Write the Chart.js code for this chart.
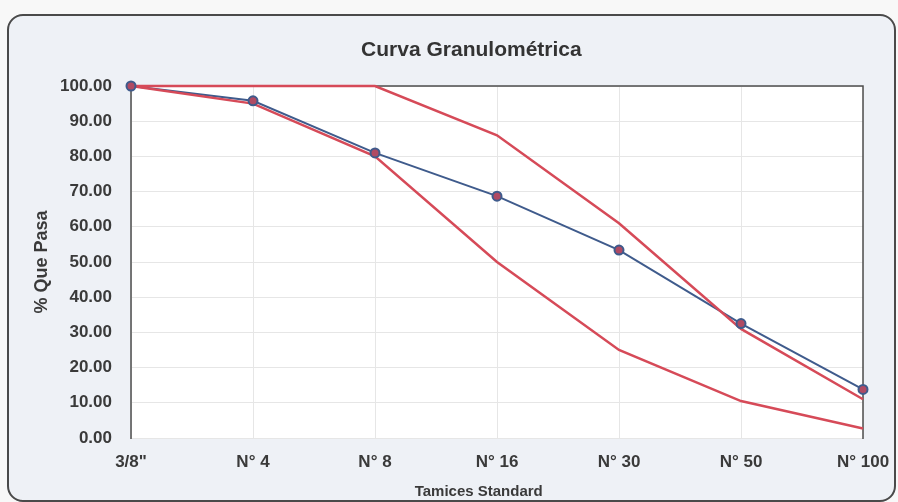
<!DOCTYPE html>
<html>
<head>
<meta charset="utf-8">
<script src="https://cdn.jsdelivr.net/npm/chart.js@4.4.1/dist/chart.umd.min.js"></script>
<style>
  html, body { margin: 0; padding: 0; background: #f8f8f8; }
  #wrap { width: 898px; height: 502px; position: relative; }
</style>
</head>
<body>
<div id="wrap"><canvas id="curva" width="898" height="502"></canvas></div>
<script>
// Sieve sizes (x categories)
const tamices = ['3/8"', 'N° 4', 'N° 8', 'N° 16', 'N° 30', 'N° 50', 'N° 100'];
// % passing of the sample
const pasa = [100, 95.8, 81.0, 68.7, 53.4, 32.5, 13.8];
// Upper gradation limit
const limiteSuperior = [100, 100, 100, 86, 61, 31, 11];
// Lower gradation limit
const limiteInferior = [100, 95, 80, 50, 25, 10.5, 2.7];
// Y axis tick values
const ticksY = [0, 10, 20, 30, 40, 50, 60, 70, 80, 90, 100];
// Chart heading and x axis caption
const titulo = 'Curva Granulométrica';
const tituloX = 'Tamices Standard';

const FONT = "'Liberation Sans', Arial, sans-serif";
const AZUL = '#3f5b8c';
const ROJO = '#d64a58';

// Rounded frame around the whole chart, white plot background, plot border and captions
const marco = {
  id: 'marco',
  beforeDraw(chart) {
    const c = chart.ctx;
    const a = chart.chartArea;
    c.save();
    c.fillStyle = '#f8f8f8';
    c.fillRect(0, 0, chart.width, chart.height);
    const x0 = 8, y0 = 15, x1 = chart.width - 3, y1 = chart.height - 1, r = 15;
    c.beginPath();
    c.moveTo(x0 + r, y0);
    c.lineTo(x1 - r, y0);
    c.arcTo(x1, y0, x1, y0 + r, r);
    c.lineTo(x1, y1 - r);
    c.arcTo(x1, y1, x1 - r, y1, r);
    c.lineTo(x0 + r, y1);
    c.arcTo(x0, y1, x0, y1 - r, r);
    c.lineTo(x0, y0 + r);
    c.arcTo(x0, y0, x0 + r, y0, r);
    c.closePath();
    c.fillStyle = '#eef1f6';
    c.fill();
    c.lineWidth = 2;
    c.strokeStyle = '#4a4a4a';
    c.stroke();
    c.fillStyle = '#ffffff';
    c.fillRect(a.left, a.top, a.right - a.left, a.bottom - a.top);
    c.restore();
  },
  beforeDatasetsDraw(chart) {
    const c = chart.ctx;
    const a = chart.chartArea;
    c.save();
    c.strokeStyle = '#4d4d4d';
    c.lineWidth = 1.5;
    c.beginPath();
    c.moveTo(a.left, a.bottom + 1);
    c.lineTo(a.left, a.top);
    c.lineTo(a.right, a.top);
    c.lineTo(a.right, a.bottom + 1);
    c.stroke();
    c.restore();
  },
  afterDraw(chart) {
    const c = chart.ctx;
    const a = chart.chartArea;
    c.save();
    c.fillStyle = '#333333';
    c.textAlign = 'center';
    c.textBaseline = 'middle';
    c.font = 'bold 21px ' + FONT;
    c.fillText(titulo, a.left + (a.right - a.left) * 0.465, a.top - 36);
    c.fillStyle = '#3a3a3a';
    c.font = 'bold 15px ' + FONT;
    c.fillText(tituloX, a.left + (a.right - a.left) * 0.475, a.bottom + 54);
    c.restore();
  }
};

new Chart(document.getElementById('curva'), {
  type: 'line',
  data: {
    labels: tamices,
    datasets: [
      {
        label: '% Que Pasa',
        data: pasa,
        borderColor: AZUL,
        borderWidth: 2,
        pointRadius: 0,
        tension: 0,
        order: 3
      },
      {
        label: 'Límite superior',
        data: limiteSuperior,
        borderColor: ROJO,
        borderWidth: 2.5,
        pointRadius: 0,
        tension: 0,
        order: 2
      },
      {
        label: 'Límite inferior',
        data: limiteInferior,
        borderColor: ROJO,
        borderWidth: 2.5,
        pointRadius: 0,
        tension: 0,
        order: 2
      },
      {
        label: 'Puntos',
        data: pasa,
        showLine: false,
        pointRadius: 4.5,
        pointBackgroundColor: '#b04a63',
        pointBorderColor: AZUL,
        pointBorderWidth: 2,
        order: 1
      }
    ]
  },
  options: {
    responsive: false,
    animation: false,
    clip: false,
    layout: { padding: { left: 25, right: 35, top: 86, bottom: 2 } },
    plugins: {
      legend: { display: false },
      tooltip: { enabled: false },
      title: { display: false }
    },
    scales: {
      x: {
        offset: false,
        grid: { color: '#e6e6e6', lineWidth: 1, drawTicks: false },
        border: { display: false },
        ticks: {
          color: '#3a3a3a',
          padding: 14,
          maxRotation: 0,
          autoSkip: false,
          font: { family: FONT, size: 17, weight: 'bold' }
        },
        title: { display: false },
        afterFit(scale) {
          scale.height = 62;
          scale.paddingLeft = 0;
          scale.paddingRight = 0;
        }
      },
      y: {
        min: 0,
        max: 100,
        afterBuildTicks(scale) { scale.ticks = ticksY.map(v => ({ value: v })); },
        grid: { color: '#e6e6e6', lineWidth: 1, drawTicks: false },
        border: { display: false },
        ticks: {
          color: '#3a3a3a',
          padding: 19,
          font: { family: FONT, size: 17, weight: 'bold' },
          callback: v => Number(v).toFixed(2)
        },
        title: {
          display: true,
          text: '% Que Pasa',
          color: '#3a3a3a',
          font: { family: FONT, size: 18, weight: 'bold' },
          padding: { top: 6, bottom: 0 }
        },
        afterFit(scale) {
          scale.width = 106;
          scale.paddingTop = 0;
          scale.paddingBottom = 0;
        }
      }
    }
  },
  plugins: [marco]
});
</script>
</body>
</html>
